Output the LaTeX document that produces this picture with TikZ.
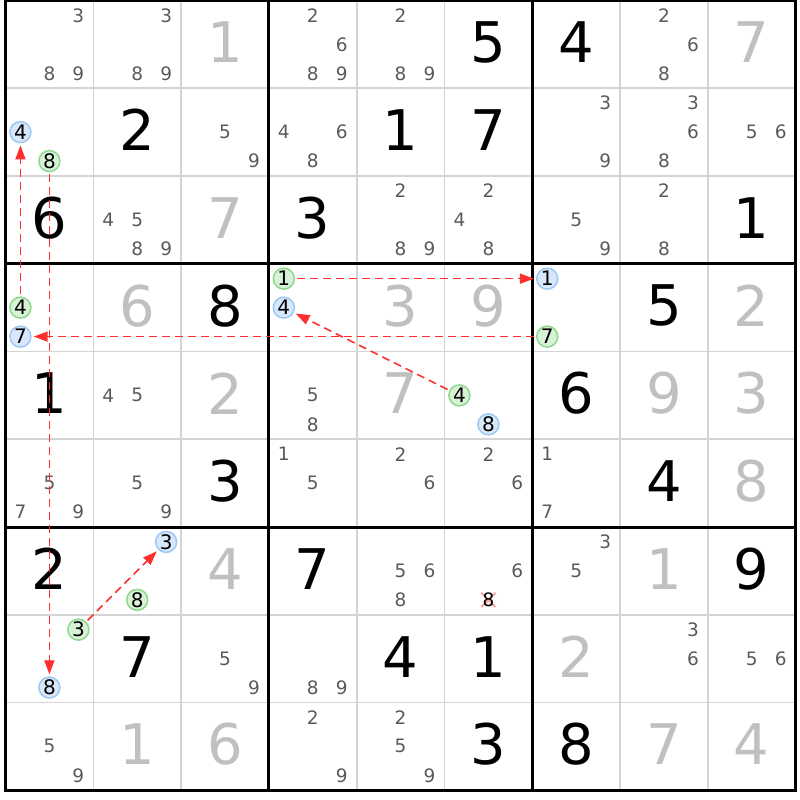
\documentclass[tikz,border=0pt]{standalone}
\usepackage{fontspec}
\setmainfont{DejaVu Sans}
\usepackage{tikz}
\usetikzlibrary{arrows.meta}
\definecolor{candgray}{HTML}{5A5A5A}
\definecolor{solvedgray}{HTML}{C0C0C0}
\definecolor{gridgray}{HTML}{D4D4D4}
\definecolor{bluering}{HTML}{9CC8F4}
\definecolor{bluefill}{HTML}{D8E8FA}
\definecolor{greenring}{HTML}{8ED88E}
\definecolor{greenfill}{HTML}{D8F2D8}
\definecolor{linkred}{HTML}{FF2E2E}
\definecolor{crosspink}{HTML}{F4A0A0}
\tikzset{
    given/.style = {font=\fontsize{56}{56}\selectfont, text=black,
                 inner sep=0pt, yshift=2pt},
    solved/.style = {given, text=solvedgray},
    cand/.style = {font=\fontsize{18.5}{18.5}\selectfont, text=candgray, inner sep=0pt},
    bluedot/.style = {circle, draw=bluering, fill=bluefill, line width=1.5pt,
                 minimum size=21pt, inner sep=0pt, font=\fontsize{20}{20}\selectfont},
    greendot/.style = {bluedot, draw=greenring, fill=greenfill},
    minorline/.style = {draw=gridgray, line width=1.6pt},
    majorline/.style = {draw=black, line width=3pt},
    linkarrow/.style = {draw=linkred, line width=1.6pt, dash pattern=on 8pt off 5pt,
                 -{Triangle[length=14pt,width=10pt]}, shorten >=2pt, shorten <=2pt},
}

\begin{document}
\begin{tikzpicture}[x=87.8pt,y=-87.75pt]
\useasboundingbox ([xshift=-5.5pt,yshift=0.5pt]0,0) rectangle ++(800pt,-800pt);

% grid
\foreach \i in {1,2,4,5,7,8}
  \draw[minorline] (\i,0) -- (\i,9) (0,\i) -- (9,\i);
\draw[majorline] (0,0) rectangle (9,9);
\foreach \i in {3,6}
  \draw[majorline] (\i,0) -- (\i,9) (0,\i) -- (9,\i);

% candidate spots
\foreach \row in {1,...,9}
 \foreach \col in {1,...,9}
  \foreach \dig in {1,...,9}
   \coordinate (p\row\col\dig) at ({\col-0.5+0.33*(mod(\dig-1,3)-1)},{\row-0.5+0.33*(floor((\dig-1)/3)-1)});

% givens and solved cells
\foreach \row/\col/\val in {1/6/5,1/7/4,2/2/2,2/5/1,2/6/7,3/1/6,3/4/3,3/9/1,
   4/3/8,4/8/5,5/1/1,5/7/6,6/3/3,6/8/4,7/1/2,7/4/7,7/9/9,8/2/7,8/5/4,8/6/1,9/6/3,9/7/8}
  \node[given] (v\row\col) at ({\col-0.5},{\row-0.5}) {\val};
\foreach \row/\col/\val in {1/3/1,1/9/7,3/3/7,4/2/6,4/5/3,4/6/9,4/9/2,5/3/2,5/5/7,
   5/8/9,5/9/3,6/9/8,7/3/4,7/8/1,8/7/2,9/2/1,9/3/6,9/8/7,9/9/4}
  \node[solved] (v\row\col) at ({\col-0.5},{\row-0.5}) {\val};

% pencil marks
\foreach \row/\col/\dig in {1/1/3,1/1/8,1/1/9,1/2/3,1/2/8,1/2/9,1/4/2,1/4/6,1/4/8,1/4/9,
   1/5/2,1/5/8,1/5/9,1/8/2,1/8/6,1/8/8,
   2/3/5,2/3/9,2/4/4,2/4/6,2/4/8,2/7/3,2/7/9,2/8/3,2/8/6,2/8/8,2/9/5,2/9/6,
   3/2/4,3/2/5,3/2/8,3/2/9,3/5/2,3/5/8,3/5/9,3/6/2,3/6/4,3/6/8,3/7/5,3/7/9,3/8/2,3/8/8,
   5/2/4,5/2/5,5/4/5,5/4/8,
   6/1/5,6/1/7,6/1/9,6/2/5,6/2/9,6/4/1,6/4/5,6/5/2,6/5/6,6/6/2,6/6/6,6/7/1,6/7/7,
   7/5/5,7/5/6,7/5/8,7/6/6,7/7/3,7/7/5,
   8/3/5,8/3/9,8/4/8,8/4/9,8/8/3,8/8/6,8/9/5,8/9/6,
   9/1/5,9/1/9,9/4/2,9/4/9,9/5/2,9/5/5,9/5/9}
  \node[cand] (k\row\col\dig) at (p\row\col\dig) {\dig};

% eliminated 8
\draw[crosspink, line width=2pt] ([xshift=-7pt,yshift=-7pt]p768) -- ([xshift=7pt,yshift=7pt]p768)
  ([xshift=-7pt,yshift=7pt]p768) -- ([xshift=7pt,yshift=-7pt]p768);
\node[cand, text=black] (k768) at (p768) {8};

% chain ends
\node[bluedot]  (b4top) at (p214) {4};
\node[greendot] (g8top) at (p218) {8};
\node[greendot] (g4left) at (p414) {4};
\node[bluedot]  (b7) at (p417) {7};
\node[greendot] (g1) at (p441) {1};
\node[bluedot]  (b4mid) at (p444) {4};
\node[bluedot]  (b1) at (p471) {1};
\node[greendot] (g7) at (p477) {7};
\node[greendot] (g4mid) at (p564) {4};
\node[bluedot]  (b8mid) at (p568) {8};
\node[bluedot]  (b3) at (p723) {3};
\node[greendot] (g8mid) at (p728) {8};
\node[greendot] (g3) at (p813) {3};
\node[bluedot]  (b8low) at (p818) {8};

\draw[linkarrow] (g8top) to (b8low);
\draw[linkarrow] (g4left) to (b4top);
\draw[linkarrow] (g7) to (b7);
\draw[linkarrow] (g1) to (b1);
\draw[linkarrow] (g4mid) to (b4mid);
\draw[linkarrow] (g3) to (b3);
\end{tikzpicture}
\end{document}
